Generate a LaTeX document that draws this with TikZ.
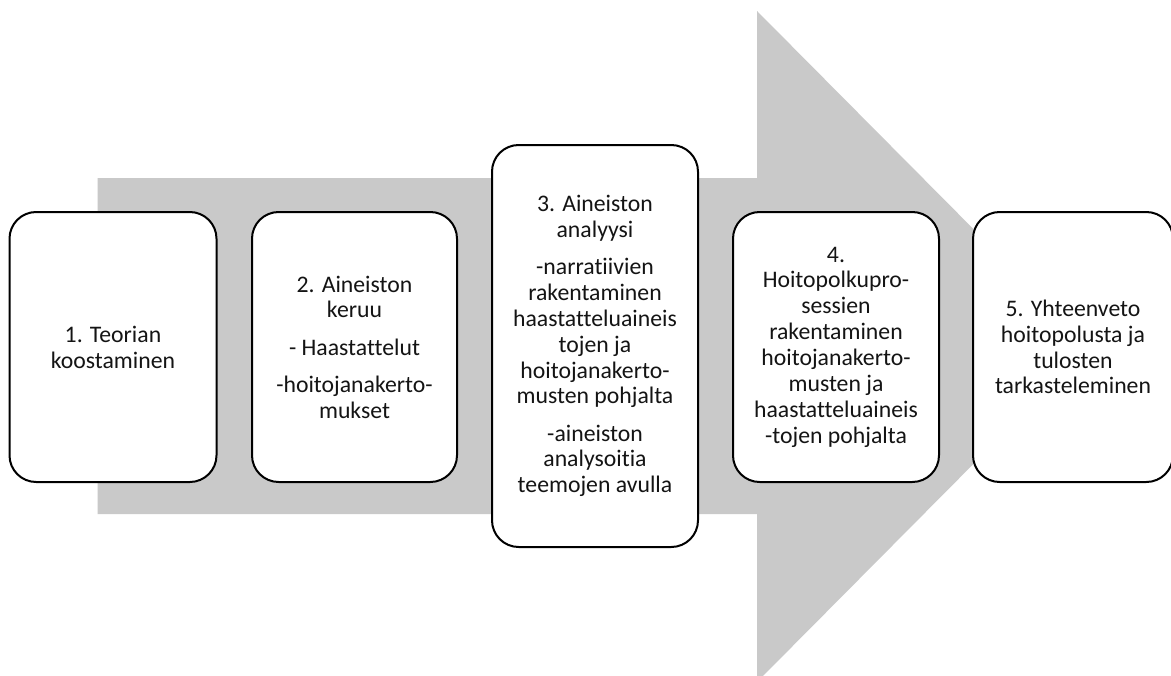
\documentclass[tikz,border=0pt]{standalone}
\usepackage{fontspec}
\setmainfont{Carlito}[Ligatures=NoCommon]
\definecolor{arrowgray}{RGB}{201,201,201}
\definecolor{boxtext}{RGB}{20,20,20}
\tikzset{
  stepbox/.style={draw=black, fill=white, line width=1.5pt, rounded corners=20pt,
    align=center, inner sep=2pt, text=boxtext,
    font=\fontsize{17.8pt}{19.4pt}\selectfont},
}
\newcommand{\gap}{\\[8.5pt]}
\begin{document}
\begin{tikzpicture}[x=0.75pt,y=-0.75pt]
  \clip (0,0) rectangle (1171,675);
  \fill[white] (0,0) rectangle (1171,675);
  % broad process arrow behind the steps
  \fill[arrowgray] (97.6,178) -- (757,178) -- (757,11) -- (1090,346.5)
    -- (757,682) -- (757,514) -- (97.6,514) -- cycle;
  % the five steps
  \node[stepbox, minimum width=207*0.75pt, minimum height=270*0.75pt] (b1) at (113,347)
    {1. Teorian\\koostaminen};
  \node[stepbox, minimum width=205*0.75pt, minimum height=270*0.75pt] (b2) at (354.5,347)
    {2. Aineiston\\keruu\gap - Haastattelut\gap -hoitojanakerto-\\mukset};
  \node[stepbox, minimum width=206*0.75pt, minimum height=402*0.75pt] (b3) at (595,346)
    {3. Aineiston\\analyysi\gap -narratiivien\\rakentaminen\\haastatteluaineis\\tojen ja\\hoitojanakerto-\\musten pohjalta\gap -aineiston\\analysoitia\\teemojen avulla};
  \node[stepbox, minimum width=206*0.75pt, minimum height=270*0.75pt] (b4) at (836,347)
    {4.\\Hoitopolkupro-\\sessien\\rakentaminen\\hoitojanakerto-\\musten ja\\haastatteluaineis\\-tojen pohjalta};
  \node[stepbox, minimum width=200*0.75pt, minimum height=270*0.75pt] (b5) at (1073,347)
    {5. Yhteenveto\\hoitopolusta ja\\tulosten\\tarkasteleminen};
\end{tikzpicture}
\end{document}
